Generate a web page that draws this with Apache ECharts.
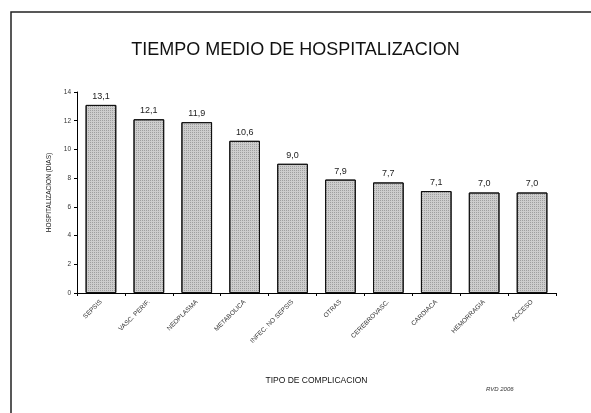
<!DOCTYPE html>
<html>
<head>
<meta charset="utf-8">
<script src="https://cdn.jsdelivr.net/npm/echarts@6/dist/echarts.min.js"></script>
<style>
  html, body { margin: 0; padding: 0; background: #fff; }
  #chart { width: 591px; height: 413px; }
</style>
</head>
<body>
<div id="chart"></div>
<script>
const categories = ['SEPSIS', 'VASC. PERIF.', 'NEOPLASMA', 'METABOLICA', 'INFEC. NO SEPSIS',
    'OTRAS', 'CEREBROVASC.', 'CARDIACA', 'HEMORRAGIA', 'ACCESO'];
const values = [13.1, 12.1, 11.9, 10.6, 9.0, 7.9, 7.7, 7.1, 7.0, 7.0];
const yTicks = [0, 2, 4, 6, 8, 10, 12, 14];

let chart = echarts.init(document.getElementById('chart'));
chart.setOption({
    animation: false,
    backgroundColor: '#fff',
    title: {
        text: 'TIEMPO MEDIO DE HOSPITALIZACION',
        left: 'center',
        top: 36,
        textStyle: { fontFamily: 'Liberation Sans', fontSize: 18, fontWeight: 'normal', color: '#111' }
    },
    graphic: [
        {
            type: 'rect',
            shape: { x: 11, y: 12, width: 620, height: 440 },
            style: { fill: 'none', stroke: '#222', lineWidth: 1.5 }
        },
        {
            type: 'text',
            left: 486, top: 386,
            style: { text: 'RVD 2006', fontFamily: 'Liberation Sans', fontSize: 6, fontStyle: 'italic', fill: '#333' }
        }
    ],
    grid: { left: 77, right: 35, top: 92, bottom: 120 },
    xAxis: {
        type: 'category',
        data: categories,
        name: 'TIPO DE COMPLICACION',
        nameLocation: 'middle',
        nameGap: 83,
        nameTextStyle: { fontFamily: 'Liberation Sans', fontSize: 8.5, color: '#111' },
        axisLine: { lineStyle: { color: '#000', width: 1 } },
        axisTick: { show: true, length: 3, lineStyle: { color: '#000' } },
        axisLabel: {
            rotate: 45, interval: 0, fontSize: 6.5, margin: 8,
            fontFamily: 'Liberation Sans', color: '#333'
        }
    },
    yAxis: {
        type: 'value',
        min: 0, max: yTicks[yTicks.length - 1], interval: 2,
        name: 'HOSPITALIZACION (DIAS)',
        nameLocation: 'middle',
        nameRotate: 90,
        nameGap: 20,
        nameTextStyle: { fontFamily: 'Liberation Sans', fontSize: 6.5, color: '#222' },
        axisLine: { show: true, lineStyle: { color: '#000', width: 1 } },
        axisTick: { show: true, length: 3, lineStyle: { color: '#000' } },
        axisLabel: { fontSize: 6.5, margin: 6, fontFamily: 'Liberation Sans', color: '#333' },
        splitLine: { show: false }
    },
    series: [
        {
            type: 'bar',
            data: values,
            barCategoryGap: '36%',
            itemStyle: {
                color: '#cdcdcd',
                borderColor: '#111',
                borderWidth: 1,
                decal: {
                    symbol: 'rect',
                    symbolSize: 1,
                    dashArrayX: [1, 1],
                    dashArrayY: [1, 1],
                    color: 'rgba(90,90,90,0.4)'
                }
            },
            label: {
                show: true,
                position: 'top',
                distance: 4,
                fontFamily: 'Liberation Sans',
                fontSize: 9,
                color: '#222',
                formatter: p => p.value.toFixed(1).replace('.', ',')
            }
        }
    ]
});
</script>
</body>
</html>
